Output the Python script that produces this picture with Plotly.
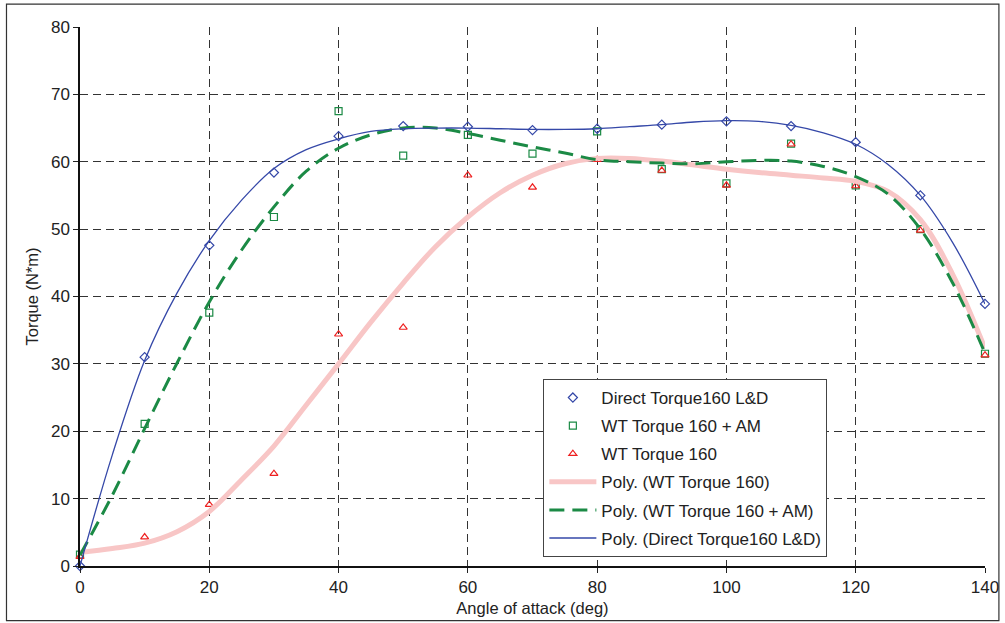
import plotly.graph_objects as go

angles = [0, 10, 20, 30, 40, 50, 60, 70, 80, 90, 100, 110, 120, 130, 140]
direct_ld = [0.0, 31.0, 47.6, 58.4, 63.8, 65.3, 65.2, 64.7, 64.9, 65.5, 66.0, 65.3, 62.9, 55.0, 38.9]
wt_am = [1.7, 21.1, 37.6, 51.8, 67.5, 60.9, 64.0, 61.2, 64.5, 58.9, 56.8, 62.7, 56.5, 50.0, 31.5]
wt_160 = [1.4, 4.3, 9.1, 13.7, 34.4, 35.4, 58.0, 56.2, 60.3, 58.7, 56.5, 62.6, 56.4, 49.8, 31.3]

# trendline values every 5 degrees
trend_x = [0, 5, 10, 15, 20, 25, 30, 35, 40, 45, 50, 55, 60, 65, 70, 75, 80, 85, 90, 95,
           100, 105, 110, 115, 120, 125, 130, 135, 140]
trend_direct = [0.0, 16.5, 30.5, 40.5, 48.3, 54.3, 59.0, 61.8, 63.4, 64.5, 64.9, 65.0, 65.0, 64.9,
                64.8, 64.8, 64.9, 65.2, 65.5, 65.9, 66.1, 66.0, 65.4, 64.3, 62.6, 59.6, 55.0, 48.0, 38.9]
trend_am = [1.6, 10.5, 20.4, 30.1, 39.2, 46.9, 53.3, 58.6, 62.0, 64.0, 65.0, 65.0, 64.2, 63.2,
            62.2, 61.3, 60.3, 60.0, 59.8, 59.7, 60.0, 60.2, 60.1, 59.3, 57.8, 55.2, 50.0, 42.0, 31.6]
trend_160 = [2.0, 2.6, 3.4, 5.1, 8.1, 12.8, 17.8, 23.9, 30.0, 36.2, 42.0, 47.4, 51.8, 55.4,
             58.0, 59.7, 60.5, 60.5, 60.1, 59.5, 58.9, 58.4, 58.0, 57.6, 57.1, 55.6, 51.4, 43.3, 32.3]

x_ticks = [0, 20, 40, 60, 80, 100, 120, 140]
y_ticks = [0, 10, 20, 30, 40, 50, 60, 70, 80]

blue = "#3548a8"
green = "#1b8a45"
red = "#ee2020"
pink = "#f8c6c6"

fig = go.Figure()
fig.add_trace(go.Scatter(x=angles, y=direct_ld, mode="markers", name="Direct Torque160 L&D",
                         legendgroup="a",
                         marker=dict(symbol="diamond-open", size=7, color=blue, line=dict(width=1.2)),
                         cliponaxis=False))
fig.add_trace(go.Scatter(x=angles, y=wt_am, mode="markers", name="WT Torque 160 + AM",
                         legendgroup="b",
                         marker=dict(symbol="square-open", size=7, color=green, line=dict(width=1.2)),
                         cliponaxis=False))
fig.add_trace(go.Scatter(x=angles, y=wt_160, mode="markers", name="WT Torque 160",
                         legendgroup="c",
                         marker=dict(symbol="triangle-up-open", size=7, color=red, line=dict(width=1.2)),
                         cliponaxis=False))
fig.add_trace(go.Scatter(x=trend_x, y=trend_160, mode="lines", name="Poly. (WT Torque 160)",
                         legendgroup="d",
                         line=dict(color=pink, width=5, shape="spline")))
fig.add_trace(go.Scatter(x=trend_x, y=trend_am, mode="lines", name="Poly. (WT Torque 160 + AM)",
                         legendgroup="e",
                         line=dict(color=green, width=3, dash="15px,8px", shape="spline")))
fig.add_trace(go.Scatter(x=trend_x, y=trend_direct, mode="lines", name="Poly. (Direct Torque160 L&D)",
                         legendgroup="f",
                         line=dict(color=blue, width=1.3, shape="spline")))

W, H = 1011, 627
fig.update_layout(
    width=W, height=H,
    margin=dict(l=80, r=20, t=27, b=58),
    paper_bgcolor="white", plot_bgcolor="white",
    font=dict(family="Liberation Sans, Arial, sans-serif", size=16, color="#222222"),
    showlegend=True,
    legend=dict(x=0.512, y=0.347, xanchor="left", yanchor="top",
                bgcolor="white", bordercolor="#444444", borderwidth=1,
                font=dict(size=17, color="#222222"), tracegroupgap=3,
                itemwidth=47),
    xaxis=dict(range=[0, 140], tickvals=x_ticks, ticks="outside", ticklen=5, tickcolor="#222222",
               showline=True, linecolor="#111111", linewidth=1.5,
               showgrid=True, gridcolor="#333333", griddash="8px,5px", gridwidth=1,
               zeroline=False, tickfont=dict(size=17),
               title=dict(text="Angle of attack (deg)", font=dict(size=16.5), standoff=6)),
    yaxis=dict(range=[0, 80], tickvals=y_ticks, ticks="outside", ticklen=5, tickcolor="#222222",
               showline=True, linecolor="#111111", linewidth=1.5,
               showgrid=True, gridcolor="#333333", griddash="8px,5px", gridwidth=1,
               zeroline=False, tickfont=dict(size=17),
               title=dict(text="Torque (N*m)", font=dict(size=16.5), standoff=8)),
)

pw = W - 80 - 20
ph = H - 27 - 58
fig.add_shape(type="rect", xref="paper", yref="paper",
              x0=(6 - 80) / pw, x1=(1005 - 80) / pw,
              y0=(27 + ph - 624) / ph, y1=(27 + ph - 4) / ph,
              line=dict(color="#333333", width=1.2), fillcolor="rgba(0,0,0,0)", layer="below")

fig.write_html("out.html", config={"displayModeBar": False},
               post_script="document.body.style.margin='0';document.body.style.overflow='hidden';")
